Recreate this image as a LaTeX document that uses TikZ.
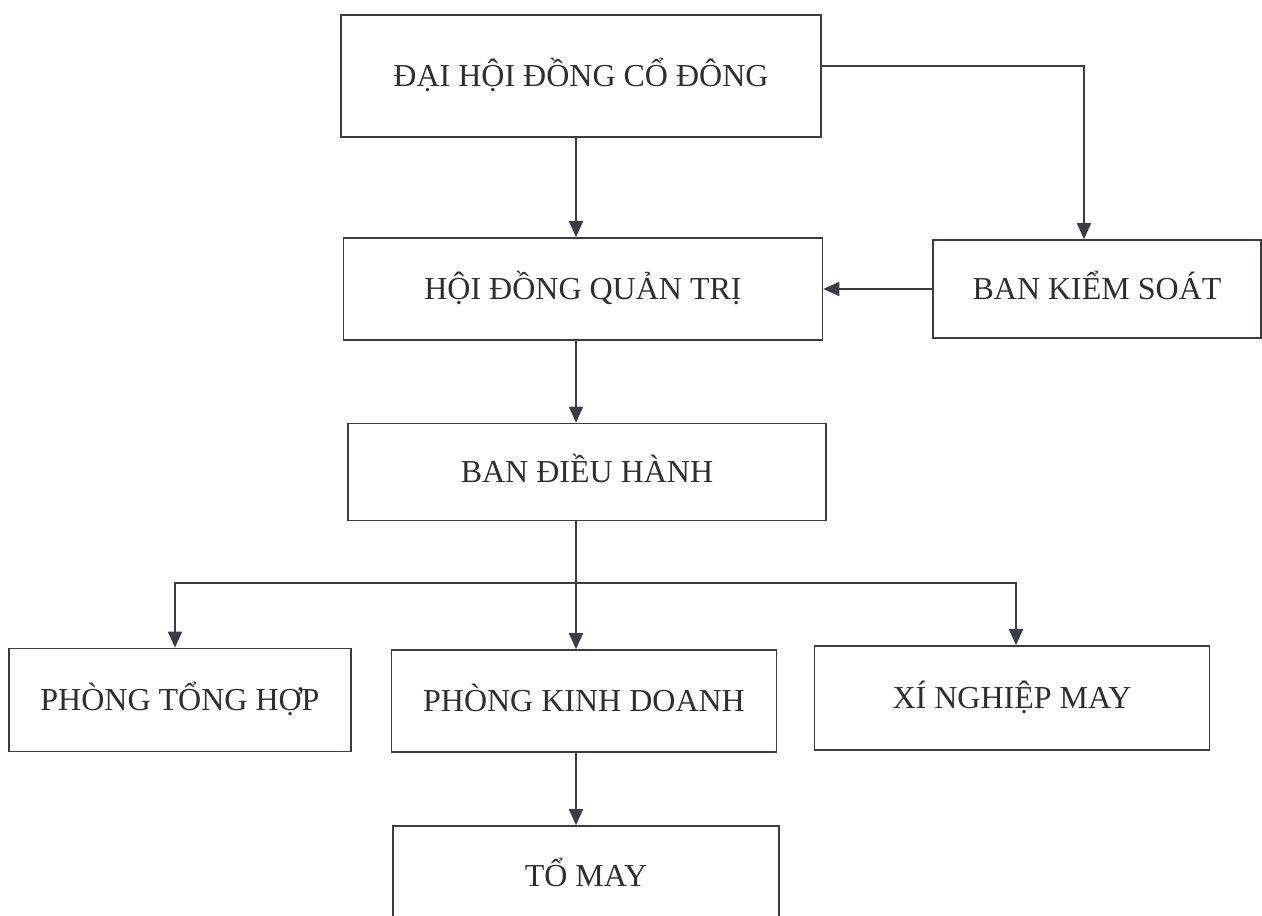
\documentclass[tikz,border=0pt]{standalone}
\usepackage{fontspec}
\setmainfont{Liberation Serif}
\usetikzlibrary{arrows.meta}
\definecolor{linegray}{HTML}{3C3C46}
\definecolor{textgray}{HTML}{2E2E2E}

\begin{document}
\begin{tikzpicture}[x=1pt,y=-1pt,
box/.style={draw=linegray,line width=1.6pt,rectangle,inner sep=0pt,
  text=textgray,font=\fontsize{32}{38}\selectfont,text height=21pt,text depth=0pt},
lin/.style={draw=linegray,line width=1.6pt},
arr/.style={lin,-{Triangle[length=16pt,width=14pt]}},
arrboth/.style={lin,{Triangle[length=16pt,width=14pt]}-{Triangle[length=16pt,width=14pt]}}]
\useasboundingbox (0,0) rectangle (1262,916);
\clip (0,0) rectangle (1262,916);
\fill[white] (0,0) rectangle (1262,916);
% boxes
\node[box,minimum width=480pt,minimum height=122pt] (dhcd) at (581,76) {ĐẠI HỘI ĐỒNG CỔ ĐÔNG};
\node[box,minimum width=479pt,minimum height=102pt] (hdqt) at (583,289) {HỘI ĐỒNG QUẢN TRỊ};
\node[box,minimum width=328pt,minimum height=98pt] (bks) at (1097,289) {BAN KIỂM SOÁT};
\node[box,minimum width=478pt,minimum height=97pt] (bdh) at (587,472) {BAN ĐIỀU HÀNH};
\node[box,minimum width=342pt,minimum height=103pt] (pth) at (180,700) {PHÒNG TỔNG HỢP};
\node[box,minimum width=385pt,minimum height=102pt] (pkd) at (584,701) {PHÒNG KINH DOANH};
\node[box,minimum width=395pt,minimum height=104pt] (xnm) at (1012,698) {XÍ NGHIỆP MAY};
\node[box,minimum width=386pt,minimum height=100pt] (tomay) at (586,876) {TỔ MAY};
% helper points
\coordinate (spine) at (576,0);
\coordinate (turn) at (1084,66);
\coordinate (bus) at (576,583);
% connectors
\draw[arr] (dhcd.east |- turn) -- (turn) -- (bks.north -| turn);
\draw[arr] (dhcd.south -| spine) -- (hdqt.north -| spine);
\draw[arr] (bks.west) -- (hdqt.east);
\draw[arr] (hdqt.south -| spine) -- (bdh.north -| spine);
\draw[lin] (bdh.south -| spine) -- (bus);
\draw[arrboth] ([xshift=-5pt]pth.north) -- ([xshift=-5pt]bus -| pth.north)
  -- ([xshift=4pt]bus -| xnm.north) -- ([xshift=4pt]xnm.north);
\draw[arr] (bus) -- (pkd.north -| bus);
\draw[arr] (pkd.south -| spine) -- (tomay.north -| spine);
\end{tikzpicture}
\end{document}
